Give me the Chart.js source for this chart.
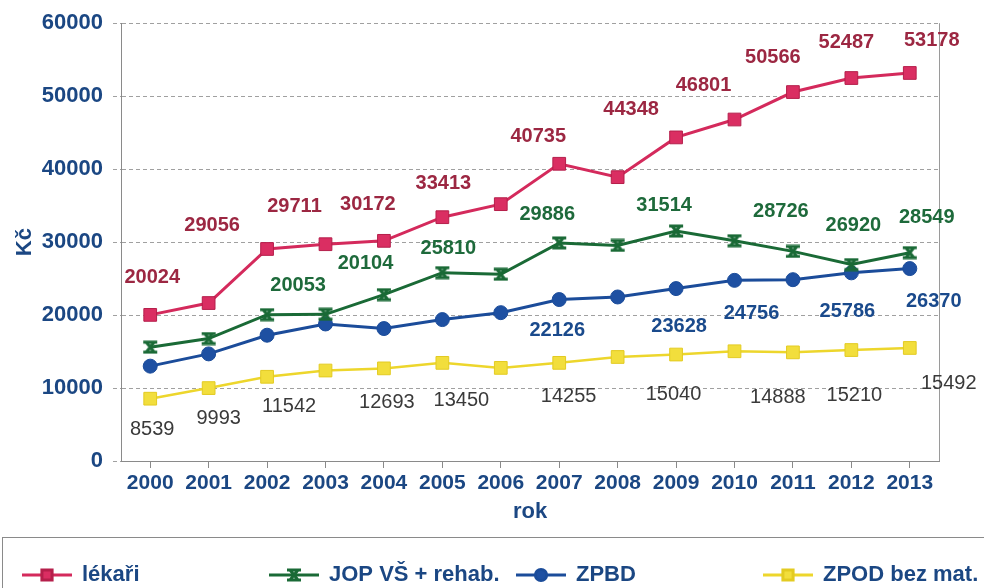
<!DOCTYPE html>
<html lang="cs">
<head>
<meta charset="UTF-8">
<script src="https://cdn.jsdelivr.net/npm/chart.js@4.4.1/dist/chart.umd.min.js"></script>
<title>Kč podle roku</title>
<style>
  html, body { margin: 0; padding: 0; background: #fff; }
  #wrap { width: 984px; height: 588px; position: relative; }
</style>
</head>
<body>
<div id="wrap"><canvas id="myChart" width="984" height="588"></canvas></div>
<script>
// data
const years = ['2000','2001','2002','2003','2004','2005','2006','2007','2008','2009','2010','2011','2012','2013'];
const lekari = [20024, 21650, 29056, 29711, 30172, 33413, 35200, 40735, 38900, 44348, 46801, 50566, 52487, 53178];
const jop    = [15600, 16780, 20053, 20104, 22800, 25810, 25600, 29886, 29550, 31514, 30190, 28726, 26920, 28549];
const zpbd   = [13000, 14680, 17240, 18780, 18150, 19380, 20330, 22126, 22480, 23628, 24756, 24850, 25786, 26370];
const zpod   = [8539, 9993, 11542, 12400, 12693, 13450, 12760, 13450, 14255, 14590, 15040, 14888, 15210, 15492];
const seriesNames = ['lékaři', 'JOP VŠ + rehab.', 'ZPBD', 'ZPOD bez mat.'];
const yTicks = [0, 10000, 20000, 30000, 40000, 50000, 60000];

// which points carry a value label
const lekariLabelIdx = [0, 2, 3, 4, 5, 7, 9, 10, 11, 12, 13];
const jopLabelIdx    = [2, 3, 5, 7, 9, 11, 12, 13];
const zpbdLabelIdx   = [7, 9, 10, 12, 13];
const zpodLabelIdx   = [0, 1, 2, 4, 5, 8, 10, 11, 12, 13];

// label nudges in px (layout only)
const lekariLabelOff = [[2,-37],[-55,-24],[-31,-38],[-16,-36],[1,-34],[-21,-27],[-45,-28],[-31,-34],[-20,-35],[-5,-36],[22,-32]];
const jopLabelOff    = [[31,-29],[40,-51],[6,-24],[-12,-28],[-12,-26],[-12,-40],[2,-39],[17,-35]];
const zpbdLabelOff   = [[-2,31],[3,38],[17,33],[-4,39],[24,33]];
const zpodLabelOff   = [[2,31],[10,30],[22,30],[3,34],[19,38],[-49,39],[-61,43],[-15,45],[3,45],[39,36]];

const axisBlue = '#1B4783';
const FONT = "'Liberation Sans', Arial, sans-serif";

// hourglass-like marker for JOP series
function hourglass(color) {
  const c = document.createElement('canvas');
  c.width = 16; c.height = 14;
  const g = c.getContext('2d');
  g.strokeStyle = color;
  g.lineWidth = 3;
  g.beginPath();
  g.moveTo(1, 2); g.lineTo(15, 2);
  g.moveTo(1, 12); g.lineTo(15, 12);
  g.moveTo(4, 2); g.lineTo(12, 12);
  g.moveTo(12, 2); g.lineTo(4, 12);
  g.stroke();
  return c;
}
const jopMarker = hourglass('#1A6A36');

const labelInfo = [
  {idx: lekariLabelIdx, off: lekariLabelOff, color: '#9C2742', weight: 'bold'},
  {idx: jopLabelIdx, off: jopLabelOff, color: '#1E6A3B', weight: 'bold'},
  {idx: zpbdLabelIdx, off: zpbdLabelOff, color: '#1A4A8C', weight: 'bold'},
  {idx: zpodLabelIdx, off: zpodLabelOff, color: '#3a3a3a', weight: 'normal'}
];

const valueLabels = {
  id: 'valueLabels',
  afterDatasetsDraw(chart) {
    const ctx = chart.ctx;
    ctx.save();
    ctx.textAlign = 'center';
    ctx.textBaseline = 'middle';
    chart.data.datasets.forEach((ds, d) => {
      const meta = chart.getDatasetMeta(d);
      const info = labelInfo[d];
      ctx.fillStyle = info.color;
      ctx.font = info.weight + ' 20px ' + FONT;
      info.idx.forEach((i, k) => {
        const pt = meta.data[i];
        ctx.fillText(String(ds.data[i]), pt.x + info.off[k][0], pt.y + info.off[k][1]);
      });
    });
    ctx.restore();
  }
};

const frame = {
  id: 'frame',
  beforeDatasetsDraw(chart) {
    const {ctx, chartArea} = chart;
    ctx.save();
    ctx.strokeStyle = '#9a9a9a';
    ctx.lineWidth = 1;
    ctx.beginPath();
    ctx.moveTo(chartArea.right + 0.5, chartArea.top);
    ctx.lineTo(chartArea.right + 0.5, chartArea.bottom);
    ctx.stroke();
    ctx.restore();
  }
};

const boxLegend = {
  id: 'boxLegend',
  afterDraw(chart) {
    const ctx = chart.ctx;
    ctx.save();
    ctx.strokeStyle = '#8a8a8a';
    ctx.lineWidth = 1;
    ctx.strokeRect(2.5, 537.5, 990, 60);
    const y = 575;
    chart.data.datasets.forEach((ds, d) => {
      const x0 = 22 + d * 247;
      ctx.strokeStyle = ds.borderColor;
      ctx.lineWidth = 3;
      ctx.beginPath();
      ctx.moveTo(x0, y); ctx.lineTo(x0 + 50, y);
      ctx.stroke();
      ctx.fillStyle = ds.pointBackgroundColor;
      ctx.strokeStyle = ds.pointBorderColor;
      Chart.helpers.drawPoint(ctx, {pointStyle: ds.pointStyle, radius: ds.pointRadius * 0.8, rotation: 0, borderWidth: 1}, x0 + 25, y);
      ctx.fillStyle = axisBlue;
      ctx.font = 'bold 22px ' + FONT;
      ctx.textAlign = 'left';
      ctx.textBaseline = 'middle';
      ctx.fillText(seriesNames[d], x0 + 60, y);
    });
    ctx.restore();
  }
};

new Chart(document.getElementById('myChart'), {
  type: 'line',
  data: {
    labels: years,
    datasets: [
      {label: seriesNames[0], data: lekari, borderColor: '#D42A5C', borderWidth: 3,
       pointStyle: 'rect', pointRadius: 9, pointBackgroundColor: '#DA2E62', pointBorderColor: '#B51F4B', pointBorderWidth: 1},
      {label: seriesNames[1], data: jop, borderColor: '#1A6A36', borderWidth: 3,
       pointStyle: jopMarker, pointRadius: 8, pointBackgroundColor: '#1A6A36', pointBorderColor: '#1A6A36'},
      {label: seriesNames[2], data: zpbd, borderColor: '#1B4C9A', borderWidth: 3,
       pointStyle: 'circle', pointRadius: 7, pointBackgroundColor: '#1E50A2', pointBorderColor: '#1B4C9A', pointBorderWidth: 1},
      {label: seriesNames[3], data: zpod, borderColor: '#EDD62C', borderWidth: 2.5,
       pointStyle: 'rect', pointRadius: 9, pointBackgroundColor: '#F2DE3C', pointBorderColor: '#E3CB22', pointBorderWidth: 1}
    ]
  },
  plugins: [frame, valueLabels, boxLegend],
  options: {
    responsive: false,
    animation: false,
    layout: {padding: {top: 22, right: 45, bottom: 51, left: 0}},
    elements: {line: {tension: 0}},
    scales: {
      x: {
        offset: true,
        grid: {display: true, drawOnChartArea: false, drawTicks: true, tickLength: 7, color: '#8a8a8a', offset: false},
        border: {display: true, color: '#8a8a8a'},
        ticks: {color: axisBlue, font: {family: FONT, size: 21, weight: 'bold'}, padding: 3, maxRotation: 0, autoSkip: false},
        title: {display: true, text: 'rok', color: axisBlue, font: {family: FONT, size: 22, weight: 'bold'}, padding: {top: 0, bottom: 12}},
        afterFit(scale) { scale.height = 76; }
      },
      y: {
        min: yTicks[0],
        max: yTicks[yTicks.length - 1],
        afterBuildTicks(scale) { scale.ticks = yTicks.map(v => ({value: v})); },
        grid: {color: '#a0a0a0', tickLength: 8, lineWidth: 1, tickBorderDash: [4, 3]},
        border: {display: true, color: '#8a8a8a', dash: [4, 3]},
        ticks: {color: axisBlue, font: {family: FONT, size: 22, weight: 'bold'}, padding: 10,
                callback: v => String(v)},
        title: {display: true, text: 'Kč', color: axisBlue, font: {family: FONT, size: 22, weight: 'bold'}, padding: {top: 12, bottom: 0}},
        afterFit(scale) { scale.width = 121; }
      }
    },
    plugins: {
      legend: {display: false},
      tooltip: {enabled: false}
    }
  }
});
</script>
</body>
</html>
